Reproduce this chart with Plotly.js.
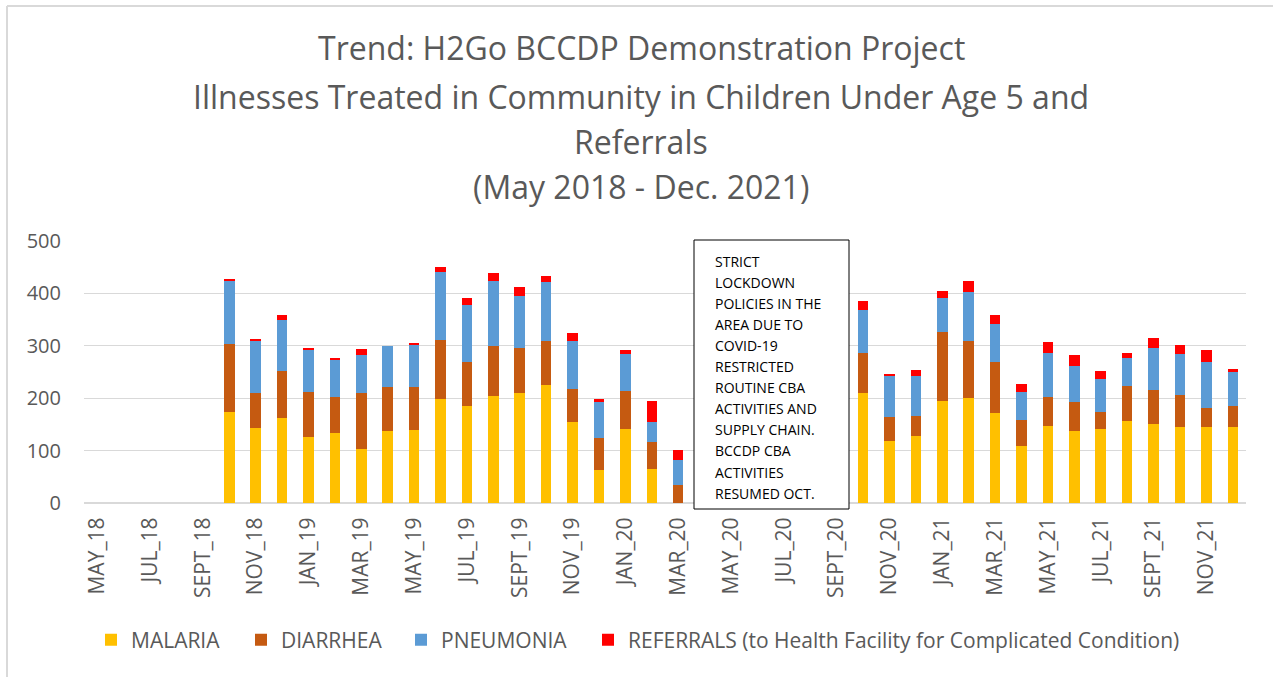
<!DOCTYPE html>
<html>
<head>
<meta charset="utf-8">
<script src="https://cdn.plot.ly/plotly-3.0.1.min.js"></script>
<style>html,body{margin:0;padding:0;background:#fff;}#chart{width:1273px;height:677px;}</style>
</head>
<body>
<div id="chart"></div>
<script>
var months = ["MAY_18","JUN_18","JUL_18","AUG_18","SEPT_18","OCT_18","NOV_18","DEC_18",
  "JAN_19","FEB_19","MAR_19","APR_19","MAY_19","JUN_19","JUL_19","AUG_19","SEPT_19","OCT_19","NOV_19","DEC_19",
  "JAN_20","FEB_20","MAR_20","APR_20","MAY_20","JUN_20","JUL_20","AUG_20","SEPT_20","OCT_20","NOV_20","DEC_20",
  "JAN_21","FEB_21","MAR_21","APR_21","MAY_21","JUN_21","JUL_21","AUG_21","SEPT_21","OCT_21","NOV_21","DEC_21"];

var malaria   = [0,0,0,0,0,173,144,163, 126,133,103,137,139,198,185,204,209,226,154,63, 142,65,0,0,0,0,0,0,0,210,119,127, 195,201,171,108,147,138,142,156,150,145,145,145];
var diarrhea  = [0,0,0,0,0,130,66,88, 85,70,106,85,82,113,85,95,87,84,63,61, 71,51,35,0,0,0,0,0,0,76,46,39, 131,109,98,50,56,55,32,67,66,62,37,41];
var pneumonia = [0,0,0,0,0,120,99,99, 81,69,73,77,81,130,107,124,99,111,93,68, 71,39,47,0,0,0,0,0,0,83,77,76, 66,92,73,54,83,69,63,54,79,77,88,64];
var referrals = [0,0,0,0,0,4,4,8, 3,5,12,1,4,9,15,15,18,13,15,6, 8,40,20,0,0,0,0,0,0,17,5,11, 13,22,17,16,21,20,15,9,20,18,22,6];

var seriesNames = ["MALARIA","DIARRHEA","PNEUMONIA","REFERRALS (to Health Facility for Complicated Condition)"];
var seriesColors = ["#FFC000","#C55A11","#5B9BD5","#FF0000"];
var seriesData = [malaria, diarrhea, pneumonia, referrals];

var titleLines = ["Trend: H2Go BCCDP Demonstration Project",
  "Illnesses Treated in Community in Children Under Age 5 and",
  "Referrals",
  "(May 2018 - Dec. 2021)"];

var noteLines = ["STRICT","LOCKDOWN","POLICIES IN THE","AREA DUE TO","COVID-19","RESTRICTED",
  "ROUTINE CBA","ACTIVITIES AND","SUPPLY CHAIN.","BCCDP CBA","ACTIVITIES","RESUMED OCT."];

var tickLabels = months.filter(function(m,i){return i%2===0;});

// layout geometry (pixels)
var W = 1273, H = 677, L = 84, R = 27, T = 241, B = 174;
var PW = W - L - R, PH = H - T - B;
function px(x){ return (x - L) / PW; }
function py(y){ return (H - B - y) / PH; }

var legendNames = ["legend","legend2","legend3","legend4"];
var legendLeft = [91, 241, 401, 588];

var traces = seriesData.map(function(d, i){
  return {
    type: "bar", x: months, y: d, name: seriesNames[i],
    marker: {color: seriesColors[i], line: {width: 0}},
    legend: legendNames[i],
    hoverinfo: "x+y+name"
  };
});

var gray = "#595959";
var annotations = [];
titleLines.forEach(function(t, i){
  var ys = [48, 96, 141, 186];
  annotations.push({xref:"paper", yref:"paper", x: px(641), y: py(ys[i]), xanchor:"center", yanchor:"middle",
    text: t, showarrow:false, font:{family:"Open Sans", size:32, color:gray}});
});
noteLines.forEach(function(t, i){
  annotations.push({xref:"paper", yref:"paper", x: px(713), y: py(261 + i*21.1), xanchor:"left", yanchor:"middle",
    text: t, showarrow:false, font:{family:"Open Sans", size:14, color:"#000"}});
});

var layout = {
  width: W, height: H,
  margin: {l: L, r: R, t: T, b: B, pad: 0},
  paper_bgcolor: "#fff", plot_bgcolor: "#fff",
  barmode: "stack", bargap: 0.6,
  font: {family: "Open Sans", color: gray},
  xaxis: {
    type: "category", tickmode: "array", tickvals: tickLabels, ticktext: tickLabels,
    tickangle: -90, tickfont: {size: 21, color: gray}, showgrid: false,
    showline: true, linecolor: "#d9d9d9", linewidth: 1, ticks: "", ticklen: 0,
    ticklabelstandoff: 5,
    range: [-0.5, months.length - 0.5], fixedrange: true
  },
  yaxis: {
    range: [0, 500], tickvals: [0,100,200,300,400,500], tickfont: {size: 20, color: gray},
    showgrid: true, gridcolor: "#d9d9d9", gridwidth: 1.3, zeroline: true, zerolinecolor: "#d9d9d9",
    zerolinewidth: 1.3,
    showline: false, ticks: "", ticklabelstandoff: 22, fixedrange: true
  },
  showlegend: true,
  annotations: annotations,
  shapes: [
    {type:"rect", xref:"paper", yref:"paper", x0: px(694), x1: px(849), y0: py(509), y1: py(240),
     fillcolor:"#fff", line:{color:"#000", width:1}, layer:"above"},
    {type:"line", xref:"paper", yref:"paper", x0: px(7), x1: px(1280), y0: py(6), y1: py(6),
     line:{color:"#d9d9d9", width:2}, layer:"below"},
    {type:"line", xref:"paper", yref:"paper", x0: px(7), x1: px(7), y0: py(6), y1: py(690),
     line:{color:"#d9d9d9", width:2}, layer:"below"}
  ]
};
legendNames.forEach(function(n, i){
  layout[n] = {x: px(legendLeft[i]), xanchor: "left", y: py(640), yanchor: "middle",
    orientation: "h", bgcolor: "rgba(0,0,0,0)", font: {family:"Open Sans", size: 21, color: gray}};
});

Plotly.newPlot("chart", traces, layout, {displayModeBar: false, staticPlot: true});
</script>
</body>
</html>
